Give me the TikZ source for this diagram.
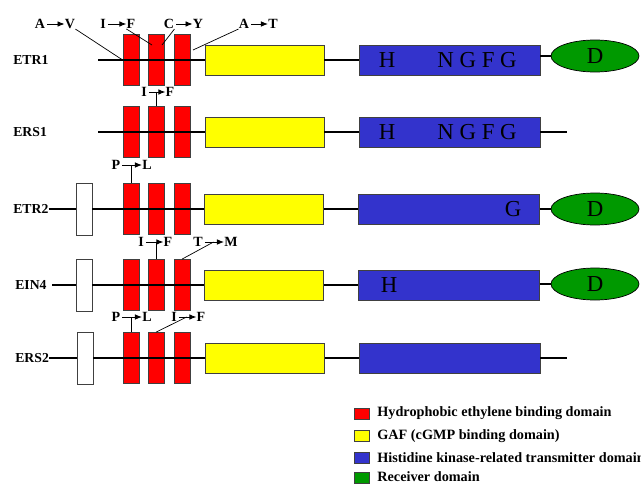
\documentclass[tikz,border=0pt]{standalone}
\usepackage{fontspec}
\setmainfont{Liberation Serif}
\usetikzlibrary{arrows.meta,shapes.geometric}
\definecolor{hydred}{RGB}{255,0,0}
\definecolor{gafyellow}{RGB}{255,255,0}
\definecolor{hkblue}{RGB}{51,51,204}
\definecolor{recgreen}{RGB}{0,153,0}
\tikzset{
  hyd/.style={shape=rectangle, draw=black!75, fill=hydred, minimum width=0.32cm, minimum height=1.02cm, inner sep=0pt},
  gaf/.style={shape=rectangle, draw=black!75, fill=gafyellow, minimum width=2.38cm, minimum height=0.6cm, inner sep=0pt},
  hk/.style={shape=rectangle, draw=black!75, fill=hkblue, minimum width=3.62cm, minimum height=0.6cm, inner sep=0pt},
  rec/.style={shape=ellipse, draw=black, fill=recgreen, minimum width=1.76cm, minimum height=0.64cm, inner sep=0pt, font=\fontsize{13}{13}\selectfont},
  tmbox/.style={shape=rectangle, draw=black!75, fill=white, minimum width=0.32cm, minimum height=1.04cm, inner sep=0pt},
  res/.style={inner sep=0pt, font=\fontsize{13}{13}\selectfont},
  gene/.style={anchor=west, inner sep=0pt, font=\fontsize{7.8}{9}\selectfont\bfseries},
  aa/.style={inner sep=0pt, font=\fontsize{8}{9}\selectfont\bfseries},
  wire/.style={line width=1pt},
  mut/.style={-{Latex[length=4pt,width=3.2pt]}, line width=0.5pt, shorten <=1pt},
  lead/.style={line width=0.4pt},
  keybox/.style={shape=rectangle, draw=black!75, minimum width=0.3cm, minimum height=0.22cm, inner sep=0pt},
  keytext/.style={anchor=west, inner sep=0pt, font=\fontsize{8.1}{9}\selectfont\bfseries}
}
\begin{document}
\begin{tikzpicture}[x=0.02cm, y=-0.02cm]
	\useasboundingbox (0,0) rectangle (641,483);
	% ETR1
	\node[hyd] (e1r1) at (131,60){};
	\node[hyd] (e1r2) at (156,60){};
	\node[hyd] (e1r3) at (182,60){};
	\node[gaf] (e1g) at (264.5,60){};
	\node[hk] (e1h) at (449.5,60){};
	\node[rec] (e1d) at (595,56){D};
	\node[res] (e1x) at (387,60){H};
	\node[res] (e1y) at (477,60){N G F G};
	\node[gene] (e1n) at (13,60){ETR1};
	\coordinate (e1s) at (98,60);
	\draw[wire] (e1s) -- (e1g.west);
	\draw[wire] (e1g.east) -- (e1h.west);
	\draw[wire] (e1d.west -| e1h.east) -- (e1d.west);
	% ERS1
	\node[hyd] (s1r1) at (131,132){};
	\node[hyd] (s1r2) at (156,132){};
	\node[hyd] (s1r3) at (182,132){};
	\node[gaf] (s1g) at (264.5,132){};
	\node[hk] (s1h) at (449.5,132){};
	\node[res] (s1x) at (387,132){H};
	\node[res] (s1y) at (477,132){N G F G};
	\node[gene] (s1n) at (13,132){ERS1};
	\coordinate (s1s) at (98,132);
	\coordinate (s1e) at (567,132);
	\draw[wire] (s1s) -- (s1g.west);
	\draw[wire] (s1g.east) -- (s1h.west);
	\draw[wire] (s1h.east) -- (s1e);
	% ETR2
	\node[tmbox] (e2w) at (84,209){};
	\node[hyd] (e2r1) at (131,209){};
	\node[hyd] (e2r2) at (156,209){};
	\node[hyd] (e2r3) at (182,209){};
	\node[gaf] (e2g) at (264,209){};
	\node[hk] (e2h) at (449,209){};
	\node[rec] (e2d) at (595,209){D};
	\node[res] (e2y) at (513,209){G};
	\node[gene] (e2n) at (13,209){ETR2};
	\draw[wire] (e2n.east) -- (e2w.west);
	\draw[wire] (e2w.east) -- (e2g.west);
	\draw[wire] (e2g.east) -- (e2h.west);
	\draw[wire] (e2h.east) -- (e2d.west);
	% EIN4
	\node[tmbox] (i4w) at (84,285){};
	\node[hyd] (i4r1) at (131,285){};
	\node[hyd] (i4r2) at (156,285){};
	\node[hyd] (i4r3) at (182,285){};
	\node[gaf] (i4g) at (264,285){};
	\node[hk] (i4h) at (449,285){};
	\node[rec] (i4d) at (595,284){D};
	\node[res] (i4x) at (389,285){H};
	\node[gene] (i4n) at (15,285){EIN4};
	\draw[wire] ([xshift=3]i4n.east) -- (i4w.west);
	\draw[wire] (i4w.east) -- (i4g.west);
	\draw[wire] (i4g.east) -- (i4h.west);
	\draw[wire] (i4d.west -| i4h.east) -- (i4d.west);
	% ERS2
	\node[tmbox] (s2w) at (85,358){};
	\node[hyd] (s2r1) at (131,358){};
	\node[hyd] (s2r2) at (156,358){};
	\node[hyd] (s2r3) at (182,358){};
	\node[gaf] (s2g) at (265,358){};
	\node[hk] (s2h) at (449.5,358){};
	\node[gene] (s2n) at (15,358){ERS2};
	\coordinate (s2e) at (567,358);
	\draw[wire] (s2n.east) -- (s2w.west);
	\draw[wire] (s2w.east) -- (s2g.west);
	\draw[wire] (s2g.east) -- (s2h.west);
	\draw[wire] (s2h.east) -- (s2e);
	% mutations
	\node[aa] (m1a) at (40,24){A};   \node[aa] (m1b) at (70,24){V};
	\node[aa] (m2a) at (103,24){I};  \node[aa] (m2b) at (131,24){F};
	\node[aa] (m3a) at (169,24){C};  \node[aa] (m3b) at (198,24){Y};
	\node[aa] (m4a) at (244,24){A};  \node[aa] (m4b) at (273,24){T};
	\node[aa] (m5a) at (144,92){I};  \node[aa] (m5b) at (170,92){F};
	\node[aa] (m6a) at (116,165){P}; \node[aa] (m6b) at (147,165){L};
	\node[aa] (m7a) at (141,242){I}; \node[aa] (m7b) at (168,242){F};
	\node[aa] (m8a) at (198,242){T}; \node[aa] (m8b) at (231,242){M};
	\node[aa] (m9a) at (116,317){P}; \node[aa] (m9b) at (147,317){L};
	\node[aa] (m10a) at (174,317){I}; \node[aa] (m10b) at (201,317){F};
	\foreach \i in {1,...,10}
		\draw[mut] (m\i a.east) -- coordinate (m\i m) (m\i b.west);
	% leaders
	\coordinate (e1p2) at (152,45);
	\coordinate (e1p3) at (162,45);
	\coordinate (e1p4) at (193,50);
	\draw[lead] (m1b.south east) -- (e1r1.west);
	\draw[lead] (m2b.south west) -- (e1p2);
	\draw[lead] (m3a.south east) -- (e1p3);
	\draw[lead] (m4a.south west) -- (e1p4);
	\draw[lead] (s1r2.north) -- (s1r2.north |- m5m);
	\draw[lead] (e2r1.north) -- (e2r1.north |- m6m);
	\draw[lead] (i4r2.north) -- (i4r2.north |- m7m);
	\draw[lead] (i4r3.north) -- (m8m);
	\draw[lead] (s2r1.north) -- (s2r1.north |- m9m);
	\draw[lead] (s2r2.north) -- (m10m);
	% legend
	\node[keybox, fill=hydred] (k1) at (362,414){};
	\node[keybox, fill=gafyellow] (k2) at (362,436){};
	\node[keybox, fill=hkblue] (k3) at (362,458){};
	\node[keybox, fill=recgreen] (k4) at (362,478){};
	\node[keytext] (k1t) at (377,413){Hydrophobic ethylene binding domain};
	\node[keytext] (k2t) at (377,436){GAF (cGMP binding domain)};
	\node[keytext] (k3t) at (377,458){Histidine kinase-related transmitter domain};
	\node[keytext] (k4t) at (377,477){Receiver domain};
\end{tikzpicture}
\end{document}
